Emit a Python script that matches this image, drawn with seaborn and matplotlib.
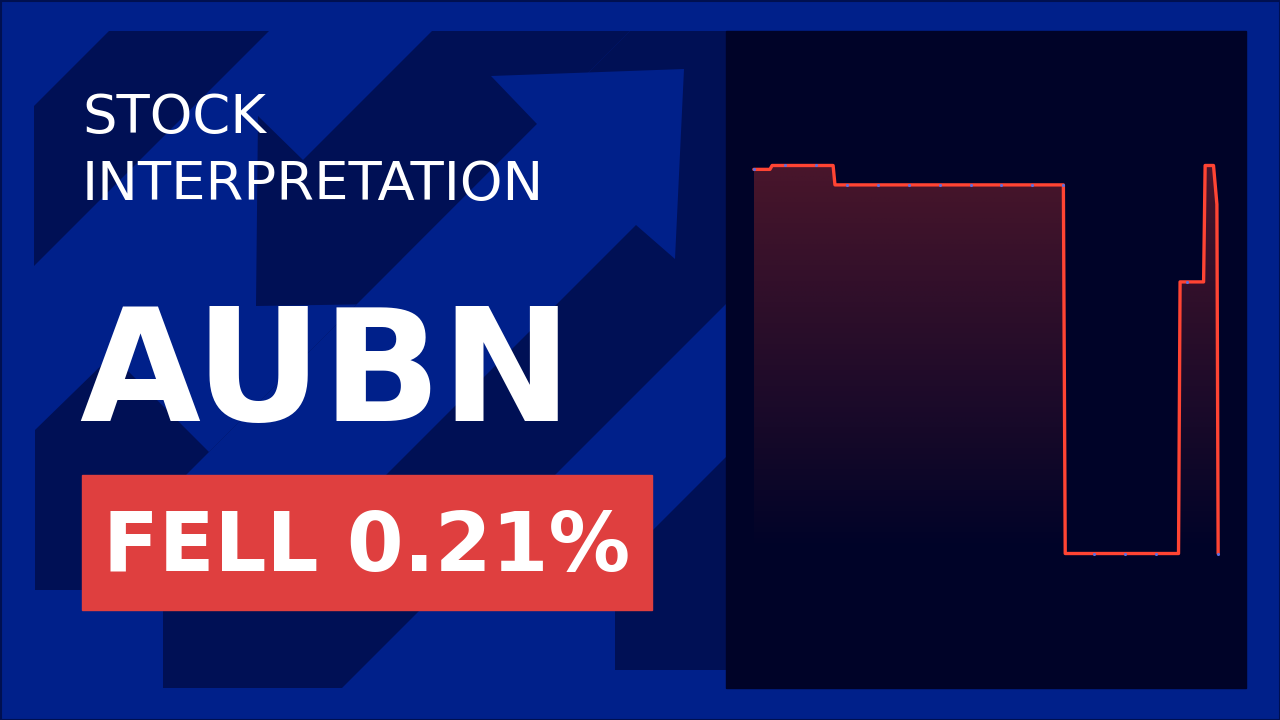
import numpy as np
import pandas as pd
import matplotlib
matplotlib.use("Agg")
import matplotlib.pyplot as plt
import seaborn as sns
from matplotlib.patches import Rectangle, Polygon

# ---- data (time index, price) ----
line_t = [0, 0.52, 0.59, 2.56, 2.62, 10.0, 10.06, 13.72, 13.77, 14.53, 14.58, 14.85, 14.96, 15.0]
line_p = [4.7599, 4.7599, 4.7600, 4.7600, 4.7595, 4.7595, 4.7500, 4.7500,
          4.7570, 4.7570, 4.7600, 4.7600, 4.7590, 4.7500]

marker_t = list(range(16))
marker_p = [4.7599, 4.7600, 4.7600, 4.7595, 4.7595, 4.7595, 4.7595, 4.7595,
            4.7595, 4.7595, 4.7595, 4.7500, 4.7500, 4.7500, 4.7570, 4.7500]

ticker = "AUBN"
headline = ["STOCK", "INTERPRETATION"]
move_text = "FELL 0.21%"

# colours
BLUE = "#00208a"
DARK = "#001055"
PANEL = "#000328"
RED = "#df3f3f"
LINE = "#ff4433"
DOT = "#5b6ee0"

sns.set_style("white")
plt.rcParams["font.family"] = ["DejaVu Sans"]

fig = plt.figure(figsize=(12.8, 7.2), dpi=100)

# background layer in pixel coordinates
bg = fig.add_axes([0, 0, 1, 1])
bg.set_xlim(0, 1280)
bg.set_ylim(720, 0)
bg.axis("off")
bg.add_patch(Rectangle((0, 0), 1280, 720, color=BLUE, zorder=0))
bg.add_patch(Rectangle((0.5, 0.5), 1279, 719, fill=False, ec="#001050", lw=1.5, zorder=5))

# decorative arrow pattern
dark_shapes = [
    [(34, 106), (109, 31), (269, 31), (34, 266)],
    [(432, 31), (630, 31), (402, 259), (446, 303), (256, 306), (258, 116), (303, 160)],
    [(630, 31), (726, 31), (726, 304), (342, 688), (163, 688), (163, 498)],
    [(35, 430), (112, 355), (236, 479), (116, 590), (35, 590)],
    [(726, 457), (615, 568), (615, 670), (726, 670)],
]
for pts in dark_shapes:
    bg.add_patch(Polygon(pts, closed=True, color=DARK, lw=0, zorder=1))
blue_arrow = [(491, 76), (684, 69), (675, 259), (636, 225), (263, 598), (163, 498), (537, 124)]
bg.add_patch(Polygon(blue_arrow, closed=True, color=BLUE, lw=0, zorder=2))

# chart panel and label box
bg.add_patch(Rectangle((726, 31), 520, 657, color=PANEL, zorder=3))
bg.add_patch(Rectangle((82, 475), 570, 135, color=RED, zorder=3))

bg.text(82, 133, headline[0], color="white", fontsize=39.2, va="baseline", ha="left", zorder=4)
bg.text(82, 200, headline[1], color="white", fontsize=39.2, va="baseline", ha="left", zorder=4)
bg.text(79, 421, ticker, color="white", fontsize=112.5, fontweight="bold", va="baseline", ha="left", zorder=4)
bg.text(103, 571, move_text, color="white", fontsize=58.8, fontweight="bold", va="baseline", ha="left", zorder=4)

# price chart
ax = fig.add_axes([726 / 1280, (720 - 688) / 720, 520 / 1280, 657 / 720])
ax.patch.set_alpha(0)

df_line = pd.DataFrame({"t": line_t, "price": line_p})
df_dots = pd.DataFrame({"t": marker_t, "price": marker_p})

sns.lineplot(data=df_line, x="t", y="price", ax=ax, color=LINE, lw=2.4,
             estimator=None, sort=False, zorder=3)
ax.margins(x=0.060, y=0.3466)
ax.autoscale_view()
xlim = ax.get_xlim()
ylim = ax.get_ylim()

# gradient area under the line
base = min(line_p)
fill = ax.fill_between(line_t, line_p, base, facecolor="none", edgecolor="none")
grad = np.zeros((256, 2, 4))
rgb = matplotlib.colors.to_rgb(LINE)
grad[..., 0], grad[..., 1], grad[..., 2] = rgb
grad[..., 3] = np.linspace(0.29, 0.0, 256)[:, None]
img = ax.imshow(grad, extent=[min(line_t), max(line_t), base, max(line_p)],
                origin="upper", aspect="auto", zorder=2, interpolation="bilinear")
img.set_clip_path(fill.get_paths()[0], ax.transData)

sns.scatterplot(data=df_dots, x="t", y="price", ax=ax, color=DOT, s=5,
                linewidth=0, zorder=4)

ax.set_xlim(xlim)
ax.set_ylim(ylim)
ax.axis("off")

fig.savefig("out.png", dpi=100, facecolor=BLUE)
